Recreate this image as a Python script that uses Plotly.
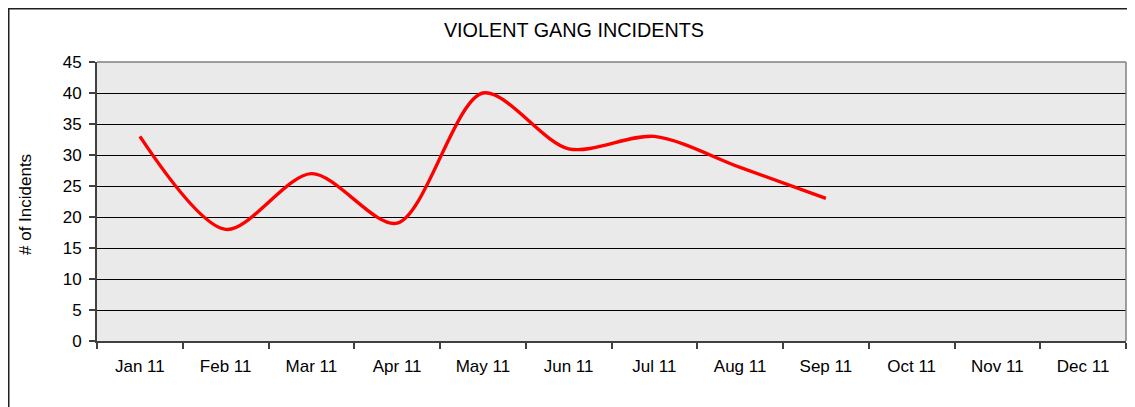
import plotly.graph_objects as go

months = ["Jan 11", "Feb 11", "Mar 11", "Apr 11", "May 11", "Jun 11",
          "Jul 11", "Aug 11", "Sep 11", "Oct 11", "Nov 11", "Dec 11"]
incidents = [33, 18, 27, 19, 40, 31, 33, 28, 23, None, None, None]
y_ticks = [0, 5, 10, 15, 20, 25, 30, 35, 40, 45]

# page body has an 8px margin, so the figure is laid out in shifted coordinates
W, H = 1127, 399
L, R, T, B = 89, 9, 54, 66
pw = W - L - R
ph = H - T - B

FONT = "Liberation Sans, Arial, sans-serif"

fig = go.Figure()
fig.add_trace(go.Scatter(
    x=months, y=incidents, mode="lines",
    line=dict(color="#ff0000", width=3.4, shape="spline", smoothing=0.85),
    connectgaps=False, hoverinfo="x+y", showlegend=False,
))

fig.update_layout(
    width=W, height=H,
    margin=dict(l=L, r=R, t=T, b=B, autoexpand=False),
    paper_bgcolor="white",
    plot_bgcolor="#eaeaea",
    font=dict(family=FONT, color="black", size=17),
    title=dict(text="VIOLENT GANG INCIDENTS", x=566 / W, xref="container",
               y=1 - 22 / H, yref="container", xanchor="center", yanchor="middle",
               font=dict(family=FONT, size=19.8, color="black")),
    xaxis=dict(
        type="category", categoryorder="array", categoryarray=months,
        range=[-0.5, 11.5], showgrid=False, zeroline=False,
        showline=True, linecolor="#404040", linewidth=2,
        ticks="outside", ticklen=6, tickcolor="#404040", tickwidth=1.5,
        tickson="boundaries", ticklabelstandoff=9,
        tickfont=dict(family=FONT, size=17, color="black"),
    ),
    yaxis=dict(
        range=[0, 45], tickvals=y_ticks, showgrid=True,
        gridcolor="black", gridwidth=1, zeroline=False,
        showline=True, linecolor="#404040", linewidth=2,
        ticks="outside", ticklen=6, tickcolor="#404040", tickwidth=1.5,
        ticklabelstandoff=4,
        tickfont=dict(family=FONT, size=17, color="black"),
    ),
    annotations=[dict(
        text="# of Incidents", textangle=-90, showarrow=False,
        xref="paper", yref="paper",
        x=(17 - L) / pw, y=(H - B - 197) / ph,
        xanchor="center", yanchor="middle",
        font=dict(family=FONT, size=17, color="black"),
    )],
    shapes=[
        # plot-area frame (top/right lighter gray)
        dict(type="line", xref="paper", yref="paper", x0=0, x1=1, y0=1, y1=1,
             line=dict(color="#808080", width=1.5), layer="above"),
        dict(type="line", xref="paper", yref="paper", x0=1, x1=1, y0=0, y1=1,
             line=dict(color="#808080", width=1.5), layer="above"),
        # outer chart border
        dict(type="rect", xref="paper", yref="paper",
             x0=(0.75 - L) / pw, x1=(W + 20 - L) / pw,
             y0=-(B + 20) / ph, y1=(H - B - 0.75) / ph,
             line=dict(color="#202020", width=1.5), layer="above"),
    ],
)

fig.write_html("out.html")
